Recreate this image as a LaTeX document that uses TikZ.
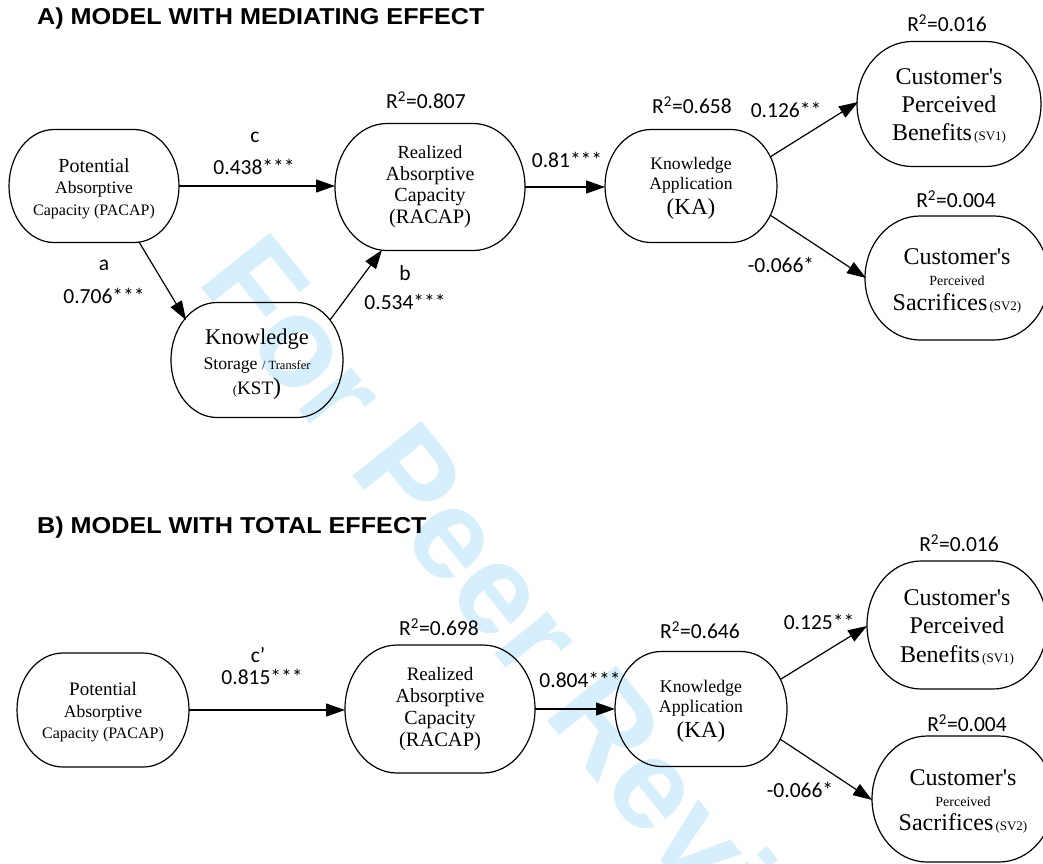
\documentclass[tikz,border=0pt]{standalone}
\usepackage{fontspec}
\setmainfont{Liberation Serif}
\newfontfamily\labfont{Carlito}
\newfontfamily\titlefont{Liberation Sans}[FakeStretch=1.095]
\newfontfamily\wmfont{Liberation Sans}
\usetikzlibrary{arrows.meta,calc}
\newcommand\myfs[2]{\fontsize{#1}{#2}\selectfont}
\newcommand\apo{\textquotesingle}
\definecolor{wmblue}{RGB}{214,239,252}
\newcommand\stadborder[2]{%
  \draw[bord] let \p1=(#1.north east), \p2=(#1.south west), \n1={(\y1-\y2)/2} in
  (\x2+#2pt,\y1) -- (\x1-#2pt,\y1)
  arc[start angle=90,end angle=-90,x radius=#2pt,y radius=\n1]
  -- (\x2+#2pt,\y2)
  arc[start angle=270,end angle=90,x radius=#2pt,y radius=\n1] -- cycle;}
\tikzset{
  box/.style 2 args={draw=none,inner sep=0pt,outer sep=0pt,align=center,
    minimum width=#1pt,minimum height=#2pt},
  bord/.style={draw=black,line width=1.2pt},
  arr/.style={-{Triangle[length=19pt,width=13pt]},line width=1.2pt},
  lbl/.style={inner sep=0pt,font=\labfont\myfs{21.5}{24}},
  ttl/.style={inner sep=0pt,anchor=west,font=\titlefont\bfseries\myfs{23}{26}},
  wm/.style={anchor=base west,rotate=-51.3,inner sep=0pt,text=wmblue,
    font=\wmfont\bfseries\myfs{128}{130}},
}
\begin{document}
\begin{tikzpicture}[x=1pt,y=-1pt]
\useasboundingbox[fill=white] (0,0) rectangle (1043,863);
% watermark
\node[wm] (wmark) at (196,281) {For Peer Review};
% titles
\node[ttl] (tA) at (37,19) {A) MODEL WITH MEDIATING EFFECT};
\node[ttl] (tB) at (37,528) {B) MODEL WITH TOTAL EFFECT};
% ---------- A ----------
\node[box={170}{113},font=\myfs{20}{21.5}] (PA) at (94,186)
 {\rule{0pt}{19pt}\myfs{20}{21.5}Potential\\\myfs{17.5}{21.5}Absorptive\\\myfs{16}{21.5}Capacity (PACAP)};
\stadborder{PA}{45}
\node[box={172}{115},font=\myfs{22.5}{25}] (KST) at (257,360)
 {\rule{0pt}{24pt}\myfs{22.5}{25}Knowledge\\\myfs{17.7}{25}Storage {\myfs{12.5}{25}/ Transfer}\\{\myfs{13}{25}(}{\myfs{19}{25}KST}\myfs{24}{25})};
\stadborder{KST}{46}
\node[box={190}{127},font=\myfs{20}{21.5}] (RA) at (430,187)
 {\myfs{18.5}{21.5}Realized\\\myfs{20}{21.5}Absorptive\\\myfs{20}{21.5}Capacity\\\myfs{20.5}{21.5}(RACAP)};
\stadborder{RA}{52}
\node[box={172}{113},font=\myfs{17.6}{20}] (KA) at (691,186)
 {\rule{0pt}{16pt}\myfs{17.6}{20}Knowledge\\\myfs{17.6}{20}Application\\[5pt]\myfs{23}{20}(KA)};
\stadborder{KA}{46}
\node[box={184}{125},font=\myfs{24}{28}] (SVa) at (949,104)
 {\rule{0pt}{20pt}\myfs{24}{28}Customer\apo s\\\myfs{24}{28}Perceived\\\myfs{24}{28}Benefits{\myfs{13}{28}\,(SV1)}};
\stadborder{SVa}{55}
\node[box={184}{124},font=\myfs{24}{21}] (SVb) at (957,278)
 {\rule{0pt}{22pt}\myfs{24}{21}Customer\apo s\\\myfs{14}{21}Perceived\\[4pt]\myfs{24}{21}Sacrifices{\myfs{13}{21}\,(SV2)}};
\stadborder{SVb}{55}
% edges A
\draw[arr] (PA.east) -- (PA.east -| RA.west);
\draw[arr] ($(PA.center)+(45,56)$) -- ($(KST.center)+(-71,-40)$);
\draw[arr] ($(KST.center)+(73,-40)$) -- ($(RA.center)+(-48,63)$);
\draw[arr] (RA.east) -- (RA.east -| KA.west);
\draw[arr] ($(KA.center)+(79,-29)$) -- ($(SVa.center)+(-91,-2)$);
\draw[arr] ($(KA.center)+(79,29)$) -- ($(SVb.center)+(-91,0)$);
% labels A
\node[lbl] (lc) at (255,137) {c};
\node[lbl] (vc) at (254,167) {0.438***};
\node[lbl] (la) at (104,265) {a};
\node[lbl] (va) at (104,296) {0.706***};
\node[lbl] (lb) at (405,273) {b};
\node[lbl] (vb) at (405,302) {0.534***};
\node[lbl] (vrk) at (567,160) {0.81***};
\node[lbl] (vs1) at (786,110) {0.126**};
\node[lbl] (vs2) at (781,265) {-0.066*};
\node[lbl] (rra) at (426,100) {R\textsuperscript{2}=0.807};
\node[lbl] (rka) at (692,105) {R\textsuperscript{2}=0.658};
\node[lbl] (rsa) at (947,23) {R\textsuperscript{2}=0.016};
\node[lbl] (rsb) at (956,199) {R\textsuperscript{2}=0.004};
% ---------- B ----------
\node[box={172}{114},font=\myfs{19}{21.5}] (PB) at (103,710)
 {\rule{0pt}{18pt}\myfs{19}{21.5}Potential\\\myfs{17.6}{21.5}Absorptive\\\myfs{16}{21.5}Capacity (PACAP)};
\stadborder{PB}{46}
\node[box={190}{128},font=\myfs{20}{22}] (RB) at (440,709)
 {\myfs{19}{22}Realized\\\myfs{20}{22}Absorptive\\\myfs{20}{22}Capacity\\\myfs{20.5}{22}(RACAP)};
\stadborder{RB}{52}
\node[box={172}{115},font=\myfs{17.8}{20}] (KB) at (701,709)
 {\rule{0pt}{16pt}\myfs{17.8}{20}Knowledge\\\myfs{17.8}{20}Application\\[5pt]\myfs{23}{20}(KA)};
\stadborder{KB}{46}
\node[box={180}{128},font=\myfs{24}{28.5}] (SVc) at (957,625)
 {\rule{0pt}{20pt}\myfs{24}{28.5}Customer\apo s\\\myfs{24}{28.5}Perceived\\\myfs{24}{28.5}Benefits{\myfs{13}{28.5}\,(SV1)}};
\stadborder{SVc}{54}
\node[box={182}{126},font=\myfs{24}{21}] (SVd) at (963,799)
 {\rule{0pt}{20pt}\myfs{24}{21}Customer\apo s\\\myfs{14}{21}Perceived\\[3pt]\myfs{24}{21}Sacrifices{\myfs{13}{21}\,(SV2)}};
\stadborder{SVd}{55}
% edges B
\draw[arr] (PB.east) -- (PB.east -| RB.west);
\draw[arr] (RB.east) -- (RB.east -| KB.west);
\draw[arr] ($(KB.center)+(80,-30)$) -- ($(SVc.center)+(-90,1)$);
\draw[arr] ($(KB.center)+(79,30)$) -- ($(SVd.center)+(-91,1)$);
% labels B
\node[lbl] (lcp) at (258,655) {c’};
\node[lbl] (vcp) at (262,677) {0.815***};
\node[lbl] (vrkb) at (580,680) {0.804***};
\node[lbl] (vs1b) at (819,622) {0.125**};
\node[lbl] (vs2b) at (800,790) {-0.066*};
\node[lbl] (rrb) at (439,627) {R\textsuperscript{2}=0.698};
\node[lbl] (rkb) at (700,630) {R\textsuperscript{2}=0.646};
\node[lbl] (rsc) at (959,543) {R\textsuperscript{2}=0.016};
\node[lbl] (rsd) at (967,723) {R\textsuperscript{2}=0.004};
\end{tikzpicture}
\end{document}
